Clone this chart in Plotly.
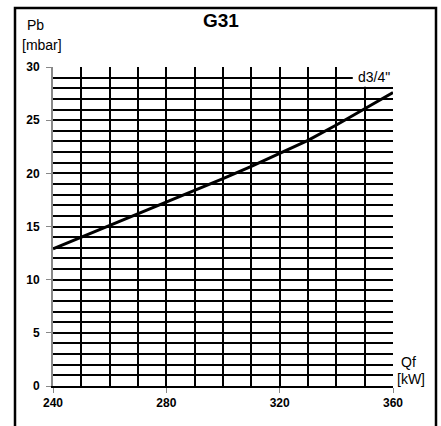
import plotly.graph_objects as go

# Data
qf_kw = [240, 250, 260, 270, 280, 290, 300, 310, 320, 330, 340, 350, 360]
pb_mbar = [12.9, 14.0, 15.05, 16.15, 17.3, 18.4, 19.5, 20.65, 21.9, 23.1, 24.55, 26.1, 27.6]
x_ticks = [240, 280, 320, 360]
y_ticks = [0, 5, 10, 15, 20, 25, 30]
series_name = 'd3/4"'
title_text = "G31"

W, H = 441, 426
L, R, T, B = 53, 48, 67, 40
PW, PH = W - L - R, H - T - B

def px(xp):
    return (xp - L) / PW

def py(yp):
    return (H - B - yp) / PH

FONT = "Liberation Sans, Arial, sans-serif"

fig = go.Figure()
fig.add_trace(go.Scatter(x=qf_kw, y=pb_mbar, mode="lines",
                         line=dict(color="black", width=3),
                         name=series_name, showlegend=False, hoverinfo="skip"))

fig.update_layout(
    width=W, height=H,
    margin=dict(l=L, r=R, t=T, b=B, pad=0),
    paper_bgcolor="white", plot_bgcolor="white",
    showlegend=False,
    font=dict(family=FONT, color="black"),
)

fig.update_xaxes(
    range=[240, 360], tickmode="array", tickvals=x_ticks,
    ticktext=[str(v) for v in x_ticks],
    ticks="outside", ticklen=5, tickcolor="#888888", tickwidth=1,
    tickfont=dict(size=12, family=FONT, color="black", weight="bold"),
    showgrid=True, gridcolor="black", gridwidth=2,
    minor=dict(tickmode="linear", tick0=240, dtick=10, showgrid=True,
               gridcolor="black", gridwidth=2, ticks=""),
    showline=True, linecolor="black", linewidth=2,
    zeroline=False, fixedrange=True,
)
fig.update_yaxes(
    range=[0, 30], tickmode="array", tickvals=y_ticks,
    ticktext=[str(v) for v in y_ticks],
    ticks="outside", ticklen=5, tickcolor="#888888", tickwidth=1,
    ticklabelstandoff=4,
    tickfont=dict(size=12, family=FONT, color="black", weight="bold"),
    showgrid=True, gridcolor="black", gridwidth=2,
    minor=dict(tickmode="linear", tick0=0, dtick=1, showgrid=True,
               gridcolor="black", gridwidth=2, ticks=""),
    showline=True, linecolor="#888888", linewidth=2,
    zeroline=False, fixedrange=True,
)

# White label box at top right of the grid
fig.add_shape(type="rect", xref="x", yref="y", x0=345.8, x1=363.5, y0=28.15, y1=30.8,
              fillcolor="white", line=dict(width=0), layer="above")

# Outer frame
fig.add_shape(type="rect", xref="paper", yref="paper",
              x0=px(15), x1=px(436), y0=py(440), y1=py(8),
              line=dict(color="black", width=2.5), fillcolor="rgba(0,0,0,0)", layer="above")

ann = [
    dict(text=title_text, x=px(220.5), y=py(20), size=19, bold=True),
    dict(text="Pb", x=px(35.5), y=py(24.5), size=14, bold=False),
    dict(text="[mbar]", x=px(41.5), y=py(45), size=14, bold=False),
    dict(text="Qf", x=px(408.5), y=py(362), size=14, bold=False),
    dict(text="[kW]", x=px(411), y=py(379), size=14, bold=False),
    dict(text=series_name, x=px(374), y=py(77), size=14, bold=False),
]
for a in ann:
    fig.add_annotation(
        text=("<b>%s</b>" % a["text"]) if a["bold"] else a["text"],
        xref="paper", yref="paper", x=a["x"], y=a["y"],
        xanchor="center", yanchor="middle", showarrow=False,
        font=dict(size=a["size"], family=FONT, color="black"),
    )

fig.write_html("out.html", config={"displayModeBar": False},
               post_script="document.body.style.margin='0';document.body.style.overflow='hidden';")
